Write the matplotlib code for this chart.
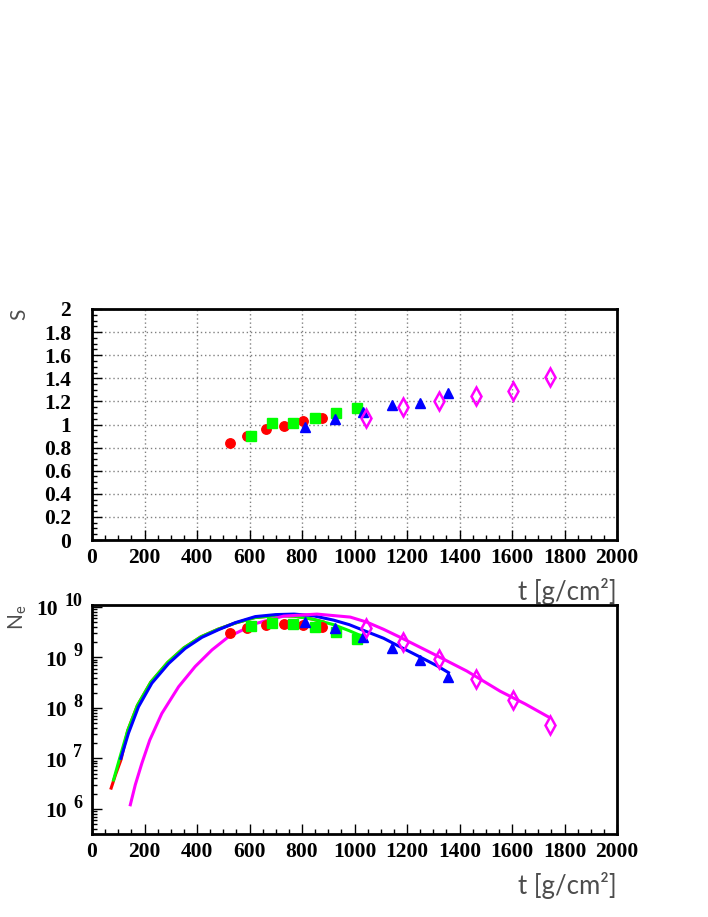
import matplotlib.pyplot as plt
from matplotlib.ticker import MultipleLocator, LogLocator, NullFormatter

# measured points (t in g/cm2)
t_red = [524, 591, 664, 733, 805, 875]
t_green = [605, 687, 767, 848, 928, 1009]
t_blue = [813, 924, 1031, 1141, 1250, 1358]
t_mag = [1044, 1184, 1323, 1463, 1603, 1743]

s_red = [0.84, 0.90, 0.96, 0.99, 1.03, 1.06]
s_green = [0.90, 1.01, 1.01, 1.06, 1.10, 1.14]
s_blue = [0.98, 1.05, 1.11, 1.17, 1.19, 1.27]
s_mag = [1.06, 1.15, 1.20, 1.25, 1.29, 1.41]

ne_red = [3.09e9, 3.80e9, 4.37e9, 4.57e9, 4.37e9, 3.98e9]
ne_green = [4.17e9, 4.79e9, 4.68e9, 3.98e9, 3.16e9, 2.34e9]
ne_blue = [5.13e9, 3.80e9, 2.51e9, 1.51e9, 8.71e8, 4.07e8]
ne_mag = [3.80e9, 2.04e9, 9.33e8, 3.72e8, 1.45e8, 4.68e7]

# shower curves
ct_red = [73, 90, 111, 136, 173, 224, 288, 350, 415, 480, 545, 620, 700, 770, 840, 880]
cn_red = [2.57e6, 4.79e6, 9.55e6, 3.55e7, 1.12e8, 3.24e8, 7.94e8, 1.55e9, 2.57e9, 3.63e9,
          4.79e9, 6.17e9, 6.76e9, 6.61e9, 5.75e9, 5.10e9]
ct_green = [82, 108, 136, 173, 224, 288, 350, 415, 480, 545, 620, 700, 770, 840, 920, 980, 1025]
cn_green = [3.72e6, 1.12e7, 3.55e7, 1.12e8, 3.24e8, 7.94e8, 1.55e9, 2.57e9, 3.63e9, 4.79e9,
            6.17e9, 6.76e9, 6.61e9, 5.75e9, 4.47e9, 3.39e9, 2.69e9]
ct_blue = [110, 139, 177, 228, 292, 355, 419, 482, 546, 622, 700, 770, 840, 920, 980, 1047,
           1111, 1174, 1250, 1316, 1358]
cn_blue = [1.00e7, 3.16e7, 1.05e8, 3.09e8, 7.59e8, 1.51e9, 2.51e9, 3.55e9, 4.90e9, 6.46e9,
           7.08e9, 7.24e9, 6.76e9, 5.50e9, 4.47e9, 3.24e9, 2.40e9, 1.62e9, 1.02e9, 6.76e8, 5.01e8]
ct_mag = [146, 165, 190, 220, 266, 330, 393, 457, 520, 584, 622, 730, 857, 984, 1047, 1110,
          1174, 1301, 1428, 1555, 1650, 1739]
cn_mag = [1.20e6, 3.0e6, 8.0e6, 2.3e7, 7.76e7, 2.63e8, 6.61e8, 1.41e9, 2.57e9, 3.72e9, 4.68e9,
          6.61e9, 7.24e9, 6.31e9, 5.01e9, 3.63e9, 2.51e9, 1.17e9, 5.37e8, 2.14e8, 1.20e8, 6.61e7]

decades = [6, 7, 8, 9, 10]

RED, GREEN, BLUE, MAG = '#ff0000', '#00ff00', '#0000ff', '#ff00ff'
tickfont = dict(family='Liberation Serif', weight='bold', size=15.5)
titlefont = dict(family='Lato', weight='normal', size=18.5, color='0.3')
ytitlefont = dict(family='Lato', weight='normal', size=15, color='0.3')

fig = plt.figure(figsize=(7.08, 9.17), dpi=100)
ax1 = fig.add_axes([92/708, 1-540/917, 525/708, 231/917])
ax2 = fig.add_axes([92/708, 1-834/917, 525/708, 229/917])

for ax in (ax1, ax2):
    ax.set_xlim(0, 2000)
    ax.xaxis.set_minor_locator(MultipleLocator(50))
    ax.tick_params(which='both', direction='in', top=False, right=False, width=1)
    ax.tick_params(which='major', length=7)
    ax.tick_params(which='minor', length=3.5)
    ax.tick_params(axis='x', pad=6)
    for sp in ax.spines.values():
        sp.set_linewidth(2)
    ax.set_xticks(range(0, 2001, 200))
    ax.set_xticklabels([str(v) for v in range(0, 2001, 200)], **tickfont)
    ax.set_xlabel('t [g/cm²]', loc='right', **titlefont)
    ax.xaxis.set_label_coords(1.0, -0.165)

# top panel
ax1.set_ylim(0, 2)
ax1.yaxis.set_minor_locator(MultipleLocator(0.05))
ax1.tick_params(axis='y', pad=15)
ax1.set_yticks([0, 0.2, 0.4, 0.6, 0.8, 1.0, 1.2, 1.4, 1.6, 1.8, 2.0])
ax1.set_yticklabels(['0', '0.2', '0.4', '0.6', '0.8', '1', '1.2', '1.4', '1.6', '1.8', '2'],
                    **tickfont)
ax1.grid(True, which='major', color='0.5', linestyle=(0, (1, 2)), linewidth=1)
ax1.set_axisbelow(True)

ax1.plot(t_red, s_red, 'o', color=RED, ms=6.8, mec=RED)
ax1.plot(t_green, s_green, 's', color=GREEN, ms=6.8, mec=GREEN)
ax1.plot(t_blue, s_blue, '^', color=BLUE, ms=7, mec=BLUE)
ax1.plot(t_mag, s_mag, 'd', mfc='none', mec=MAG, ms=9, mew=1.8)
ax1.set_ylabel('S', loc='top', **ytitlefont)
ax1.yaxis.set_label_coords(-0.12, 1.0)

# bottom panel
ax2.set_yscale('log')
ax2.set_ylim(10**5.5, 10**10.04)
ax2.yaxis.set_major_locator(LogLocator(base=10))
ax2.yaxis.set_minor_locator(LogLocator(base=10, subs=range(2, 10)))
ax2.yaxis.set_major_formatter(NullFormatter())
ax2.yaxis.set_minor_formatter(NullFormatter())

for d in decades:
    e = ax2.annotate(str(d), xy=(0, 10.0**d), xycoords=ax2.get_yaxis_transform(),
                     xytext=(-7, 4), textcoords='offset points', ha='right', va='center',
                     family='Liberation Serif', weight='bold', size=13)
    ax2.annotate('10', xy=(0, 0.5), xycoords=e, xytext=(-4.5, -6.5), textcoords='offset points',
                 ha='right', va='center', **tickfont)

ax2.plot(ct_red, cn_red, '-', color=RED, lw=2.2)
ax2.plot(ct_green, cn_green, '-', color=GREEN, lw=2.2)
ax2.plot(ct_blue, cn_blue, '-', color=BLUE, lw=2.2)
ax2.plot(ct_mag, cn_mag, '-', color=MAG, lw=2.2)

ax2.plot(t_red, ne_red, 'o', color=RED, ms=6.8, mec=RED)
ax2.plot(t_green, ne_green, 's', color=GREEN, ms=6.8, mec=GREEN)
ax2.plot(t_blue, ne_blue, '^', color=BLUE, ms=7, mec=BLUE)
ax2.plot(t_mag, ne_mag, 'd', mfc='none', mec=MAG, ms=9, mew=1.8)
ax2.set_ylabel('N$_\\mathregular{e}$', loc='top', **ytitlefont)
ax2.yaxis.set_label_coords(-0.12, 1.0)

fig.savefig('out.png', dpi=100)
